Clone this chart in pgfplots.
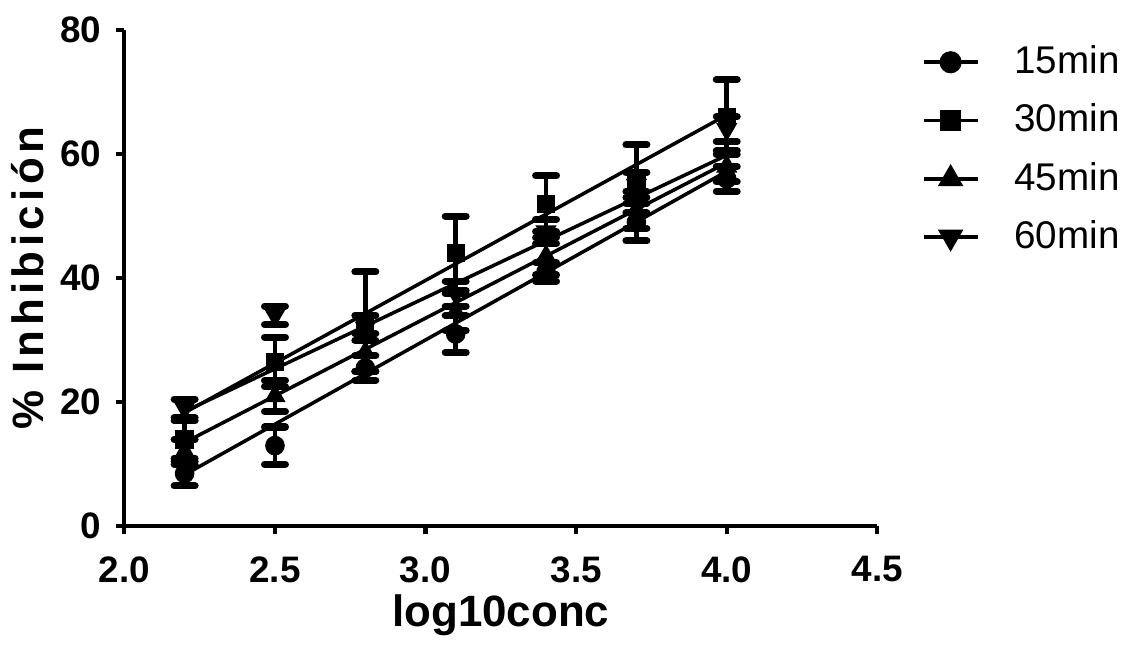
\documentclass[border=0pt]{standalone}
\usepackage{fontspec}
\setmainfont{Liberation Sans}
\newfontfamily\ylabfont[LetterSpace=10]{Liberation Sans}
\usepackage{pgfplots}
\usepackage{pgfplotstable}
\pgfplotsset{compat=1.18}

\pgfplotstableread{
x y e
2.2 8.5 2
2.5 13 3
2.8 25.5 2
3.1 31 3
3.4 41 1.5
3.7 49 3
4.0 56 2
}\tA
\pgfplotstableread{
x y e
2.2 14 3
2.5 26.5 4
2.8 33 8
3.1 44 6
3.4 52 4.5
3.7 56 5.5
4.0 66 6
}\tB
\pgfplotstableread{
x y e
2.2 12 2
2.5 21 2.5
2.8 28 3
3.1 34.5 3
3.4 43.5 3
3.7 51 3
4.0 58 2.5
}\tC
\pgfplotstableread{
x y e
2.2 19 1.5
2.5 34 1.5
2.8 32 2
3.1 37.5 2
3.4 47.5 2
3.7 55 2
4.0 64 2
}\tD

\pgfplotsset{errstyle/.style={only marks, black, forget plot,
  error bars/y dir=both, error bars/y explicit,
  error bars/error bar style={line width=1.3pt},
  error bars/error mark options={rotate=90, mark size=1.05mm, line width=2pt, line cap=round}}}

\begin{document}
\begin{tikzpicture}
\path (-12.3mm,-11.4mm) rectangle (100.6mm,52.7mm);
\begin{axis}[
  at={(0,0)}, anchor=south west,
  scale only axis, width=75.4mm, height=49.7mm,
  xmin=2, xmax=4.5, ymin=0, ymax=80,
  axis lines=left,
  axis line style={line width=1.2pt, -},
  xtick={2,2.5,...,4.5}, ytick={0,20,...,80},
  tick align=outside, major tick length=0.8mm,
  tick style={line width=1.2pt, black},
  minor tick num=0,
  /pgf/number format/assume math mode=true,
  ticklabel style={font=\bfseries\fontsize{10.5}{12}\selectfont},
  xticklabel style={/pgf/number format/.cd, fixed, fixed zerofill, precision=1, /tikz/yshift=-1mm},
  yticklabel style={/pgf/number format/.cd, fixed, /tikz/xshift=-0.3mm},
  xlabel={log10conc}, ylabel={\ylabfont\% Inhibición},
  label style={font=\bfseries\fontsize{12.5}{14}\selectfont},
  x label style={at={(axis description cs:0.5,-0.18)}, anchor=center},
  y label style={at={(axis description cs:-0.128,0.5)}, anchor=center},
  legend style={draw=none, fill=none, inner sep=0pt, at={(1.058,0.984)}, anchor=north west,
    font=\fontsize{11}{13}\selectfont, row sep=1.1mm},
  legend cell align=left,
  legend image code/.code={\draw[mark repeat=2,mark phase=2] plot coordinates {(0mm,0mm)(2.7mm,0mm)(5.4mm,0mm)};},
  clip=false,
]
% regression lines
\addplot[black, line width=1pt, no marks, forget plot] coordinates {(2.2,8.3) (4.0,57.2)};
\addplot[black, line width=1pt, no marks, forget plot] coordinates {(2.2,18.3) (4.0,66.3)};
\addplot[black, line width=1pt, no marks, forget plot] coordinates {(2.2,13.5) (4.0,58.6)};
\addplot[black, line width=1pt, no marks, forget plot] coordinates {(2.2,18.5) (4.0,59.8)};
% points with error bars
\addplot[errstyle, mark=*, mark size=2.6pt] table[x=x, y=y, y error=e] {\tA};
\addplot[errstyle, mark=square*, mark size=2.4pt] table[x=x, y=y, y error=e] {\tB};
\addplot[errstyle, mark=triangle*, mark size=3.1pt] table[x=x, y=y, y error=e] {\tC};
\addplot[errstyle, mark=triangle*, mark size=3.1pt, mark options={rotate=180}] table[x=x, y=y, y error=e] {\tD};
% legend
\addlegendimage{black, line width=1.1pt, mark=*, mark size=2.6pt}
\addlegendentry{\hspace{2.8mm}15min}
\addlegendimage{black, line width=1.1pt, mark=square*, mark size=2.4pt}
\addlegendentry{\hspace{2.8mm}30min}
\addlegendimage{black, line width=1.1pt, mark=triangle*, mark size=3.1pt}
\addlegendentry{\hspace{2.8mm}45min}
\addlegendimage{black, line width=1.1pt, mark=triangle*, mark size=3.1pt, mark options={rotate=180}}
\addlegendentry{\hspace{2.8mm}60min}
\end{axis}
\end{tikzpicture}
\end{document}
